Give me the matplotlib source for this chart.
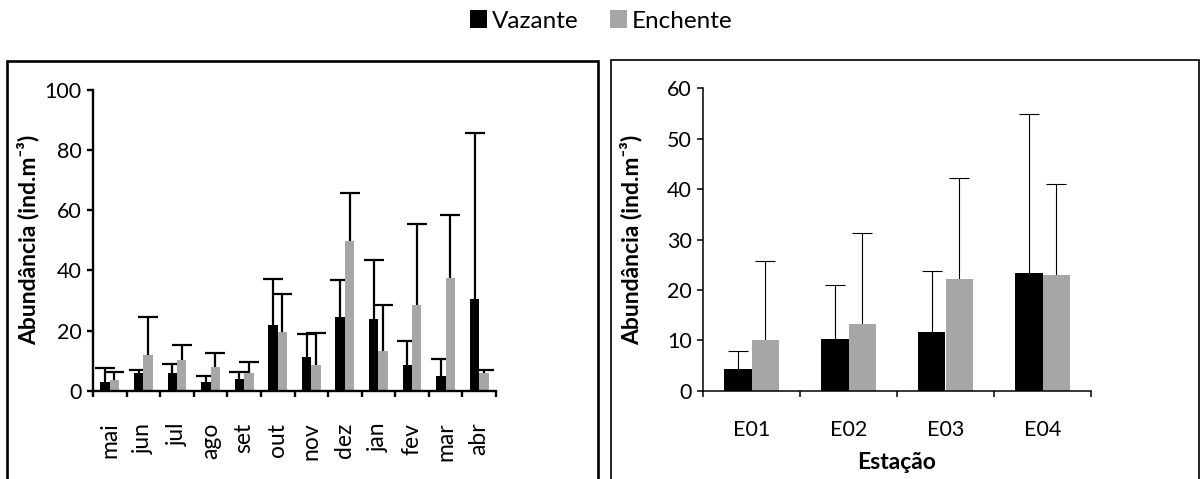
import numpy as np
import matplotlib
matplotlib.use("Agg")
import matplotlib.pyplot as plt
from matplotlib.patches import Patch, Rectangle

plt.rcParams['font.family'] = ['Lato', 'DejaVu Sans']

# monthly abundance (mean and upper error) per hydrological phase
meses = ['mai', 'jun', 'jul', 'ago', 'set', 'out', 'nov', 'dez', 'jan', 'fev', 'mar', 'abr']
vaz_mes = [3.0, 5.9, 5.9, 2.8, 3.8, 21.8, 11.3, 24.4, 23.9, 8.6, 5.0, 30.4]
vaz_mes_err = [4.4, 1.0, 3.0, 2.1, 2.3, 15.3, 7.4, 12.4, 19.7, 8.0, 5.6, 55.2]
enc_mes = [3.5, 11.9, 10.1, 7.9, 5.9, 19.4, 8.5, 49.7, 13.2, 28.6, 37.5, 5.8]
enc_mes_err = [2.8, 12.5, 5.1, 4.7, 3.7, 12.9, 10.6, 15.9, 15.2, 26.8, 20.9, 1.1]

# abundance per sampling station
estacoes = ['E01', 'E02', 'E03', 'E04']
vaz_est = [4.3, 10.3, 11.6, 23.3]
vaz_est_err = [3.6, 10.6, 12.2, 31.7]
enc_est = [10.1, 13.2, 22.1, 22.9]
enc_est_err = [15.6, 18.1, 20.2, 18.2]

PRETO = '#000000'
CINZA = '#A6A6A6'
W, H = 1202, 479
TICK_FS = 15.5
LABEL_FS = 16.5

fig = plt.figure(figsize=(W / 100, H / 100), dpi=100)

# outer frames around each panel
fig.patches.append(Rectangle((7 / W, -0.1), (598 - 7) / W, 1.1 - 61 / H,
                             transform=fig.transFigure, fill=False,
                             edgecolor='black', linewidth=1.9))
fig.patches.append(Rectangle((611 / W, -0.1), (1199 - 611) / W, 1.1 - 60 / H,
                             transform=fig.transFigure, fill=False,
                             edgecolor='black', linewidth=1.2))

ax1 = fig.add_axes([93 / W, 1 - 390.7 / H, (496 - 93) / W, (390.7 - 90) / H])
ax2 = fig.add_axes([703 / W, 1 - 390.7 / H, (1091 - 703) / W, (390.7 - 88.3) / H])


def barras(ax, cats, v, v_err, e, e_err, lw, cap, sw):
    x = np.arange(len(cats))
    w = 0.28
    ax.bar(x - w / 2, v, w, color=PRETO, zorder=2)
    ax.bar(x + w / 2, e, w, color=CINZA, zorder=2)
    for xs, ys, es in [(x - w / 2, v, v_err), (x + w / 2, e, e_err)]:
        _, caps, _ = ax.errorbar(xs, ys, yerr=[np.zeros(len(es)), es],
                                 fmt='none', ecolor='black', elinewidth=lw,
                                 capsize=cap, capthick=lw, zorder=1)
        # only the upper cap is kept
        caps[0].set_visible(False)
    ax.set_xlim(-0.5, len(cats) - 0.5)
    ax.set_xticks(np.arange(len(cats) + 1) - 0.5)
    ax.set_xticklabels([])
    ax.set_xticks(x, minor=True)
    for s in ['top', 'right']:
        ax.spines[s].set_visible(False)
    for s in ['left', 'bottom']:
        ax.spines[s].set_linewidth(sw)
    ax.tick_params(which='major', direction='out', length=4.5, width=sw,
                   labelsize=TICK_FS)
    ax.tick_params(which='minor', length=0)


barras(ax1, meses, vaz_mes, vaz_mes_err, enc_mes, enc_mes_err, 1.6, 7, 1.7)
ax1.set_ylim(0, 100)
ax1.set_yticks(np.arange(0, 101, 20))
ax1.set_xticklabels(meses, minor=True, rotation=90, fontsize=16.5)
ax1.tick_params(axis='x', which='minor', pad=23)

barras(ax2, estacoes, vaz_est, vaz_est_err, enc_est, enc_est_err, 0.8, 7, 1.1)
ax2.set_ylim(0, 60)
ax2.set_yticks(np.arange(0, 61, 10))
ax2.set_xticklabels(estacoes, minor=True, fontsize=TICK_FS)
ax2.tick_params(axis='x', which='minor', pad=21)
ax2.set_xlabel('Estação', fontsize=LABEL_FS, fontweight='bold', labelpad=9)

for ax, xl in [(ax1, -0.134), (ax2, -0.157)]:
    ax.set_ylabel('Abundância (ind.m⁻³)', fontsize=LABEL_FS, fontweight='bold')
    ax.yaxis.set_label_coords(xl, 0.5)

handles = [Patch(facecolor=PRETO, label='Vazante'),
           Patch(facecolor=CINZA, label='Enchente')]
fig.legend(handles=handles, loc='center', bbox_to_anchor=(0.5, 1 - 21 / H),
           ncol=2, frameon=False, fontsize=17.5, handlelength=0.7,
           handleheight=0.7, handletextpad=0.2, columnspacing=1.3)

fig.savefig('out.png', dpi=100)
